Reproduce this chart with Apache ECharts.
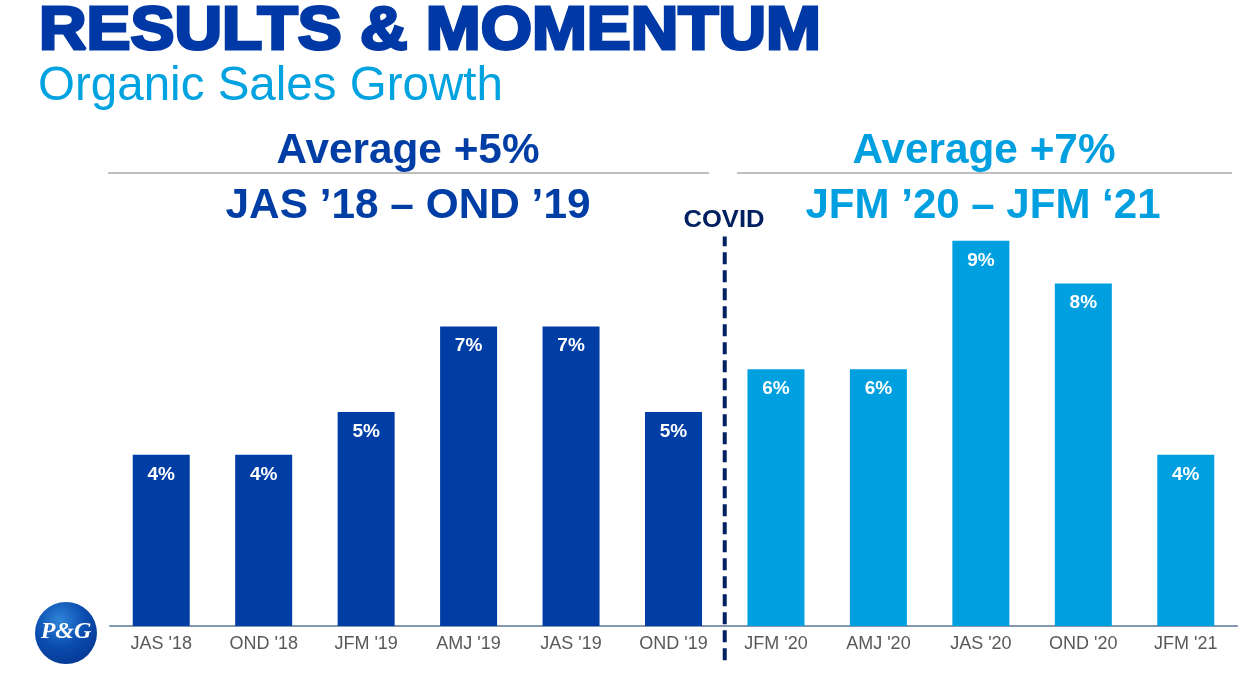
<!DOCTYPE html>
<html><head><meta charset="utf-8">
<script src="https://cdn.jsdelivr.net/npm/echarts@6/dist/echarts.min.js"></script>
<style>html,body{margin:0;padding:0;background:#fff}#c{width:1250px;height:676px}</style>
</head><body><div id="c"></div>
<script>
// ---- data ----
const categories = ["JAS '18", "OND '18", "JFM '19", "AMJ '19", "JAS '19", "OND '19", "JFM '20", "AMJ '20", "JAS '20", "OND '20", "JFM '21"];
const growth = [4, 4, 5, 7, 7, 5, 6, 6, 9, 8, 4];
const period = ['pre', 'pre', 'pre', 'pre', 'pre', 'pre', 'covid', 'covid', 'covid', 'covid', 'covid'];
const covidStartIndex = 6;
const covidLineSpan = [-0.8, 9.1];
const titleText = 'RESULTS & MOMENTUM';
const subtitleText = 'Organic Sales Growth';
const leftHeader = ['Average +5%', 'JAS \u201918 \u2013 OND \u201919'];
const rightHeader = ['Average +7%', 'JFM \u201920 \u2013 JFM \u201821'];
const covidLabel = 'COVID';

// ---- styles ----
const DARK = '#003DA5', LIGHT = '#009FDF', NAVY = '#002060';
const periodColor = { pre: DARK, covid: LIGHT };
const FF = '"Liberation Sans", Arial, sans-serif';

const mctx = document.createElement('canvas').getContext('2d');
function fit(text, font, target) { mctx.font = font; return target / mctx.measureText(text).width; }

function fittedText(text, font, target, x, y, color, align, extra) {
  const s = fit(text, font, target);
  return {
    type: 'text', x: x, y: y, scaleX: s, silent: true,
    style: Object.assign({ text: text, x: 0, y: 0, font: font, fill: color, textAlign: align, textVerticalAlign: 'middle' }, extra || {})
  };
}

const chart = echarts.init(document.getElementById('c'), null, { renderer: 'canvas' });

const titleFont = 'bold 61px ' + FF;
const subFont = '49px ' + FF;
const hdrFont = 'bold 42px ' + FF;

const option = {
  animation: false,
  backgroundColor: '#fff',
  grid: { left: 110, right: 13, top: 198, bottom: 50, containLabel: false },
  xAxis: [
    {
      type: 'category', data: categories,
      axisLine: { show: true, lineStyle: { color: '#8497B0', width: 2 } },
      axisTick: { show: false },
      axisLabel: { color: '#595959', fontSize: 18, fontFamily: FF, margin: 9, interval: 0 }
    },
    { type: 'value', min: 0, max: categories.length, show: false }
  ],
  yAxis: { type: 'value', min: 0, max: 10, show: false, splitLine: { show: false } },
  series: [
    {
      type: 'bar', barWidth: 57,
      data: growth.map((v, i) => ({ value: v, itemStyle: { color: periodColor[period[i]] } })),
      label: {
        show: true, position: 'insideTop', distance: 10, formatter: '{c}%',
        color: '#fff', fontWeight: 'bold', fontSize: 19, fontFamily: FF
      }
    },
    {
      type: 'line', xAxisIndex: 1, clip: false, silent: true, symbol: 'none', z: 5,
      data: [[covidStartIndex, covidLineSpan[0]], [covidStartIndex, covidLineSpan[1]]],
      lineStyle: { color: NAVY, width: 4, type: [12, 6] }
    }
  ],
  graphic: { elements: [
    fittedText(titleText, titleFont, 782, 39, 32, '#0039A6', 'left', { stroke: '#0039A6', lineWidth: 3 }),
    fittedText(subtitleText, subFont, 465, 38, 86, '#00A3E0', 'left'),
    fittedText(leftHeader[0], hdrFont, 263, 408, 151, DARK, 'center'),
    fittedText(leftHeader[1], hdrFont, 365, 408, 206, DARK, 'center'),
    fittedText(rightHeader[0], hdrFont, 263, 984, 151, LIGHT, 'center'),
    fittedText(rightHeader[1], hdrFont, 355, 983, 206, LIGHT, 'center'),
    { type: 'line', silent: true, shape: { x1: 108, y1: 173, x2: 709, y2: 173 }, style: { stroke: '#BFBFBF', lineWidth: 2 } },
    { type: 'line', silent: true, shape: { x1: 737, y1: 173, x2: 1232, y2: 173 }, style: { stroke: '#BFBFBF', lineWidth: 2 } },
    fittedText(covidLabel, 'bold 24px ' + FF, 81, 724, 220, NAVY, 'center'),
    { type: 'circle', silent: true, shape: { cx: 66, cy: 633, r: 31 },
      style: { fill: new echarts.graphic.RadialGradient(0.4, 0.3, 0.75, [
        { offset: 0, color: '#2E86D8' }, { offset: 0.55, color: '#0B4DB0' }, { offset: 1, color: '#063893' }]) } },
    { type: 'text', silent: true, x: 66, y: 632,
      style: { text: 'P&G', fill: '#fff', font: 'italic bold 24px "Liberation Serif", serif', textAlign: 'center', textVerticalAlign: 'middle' } }
  ] }
};
chart.setOption(option);
</script>
</body></html>
